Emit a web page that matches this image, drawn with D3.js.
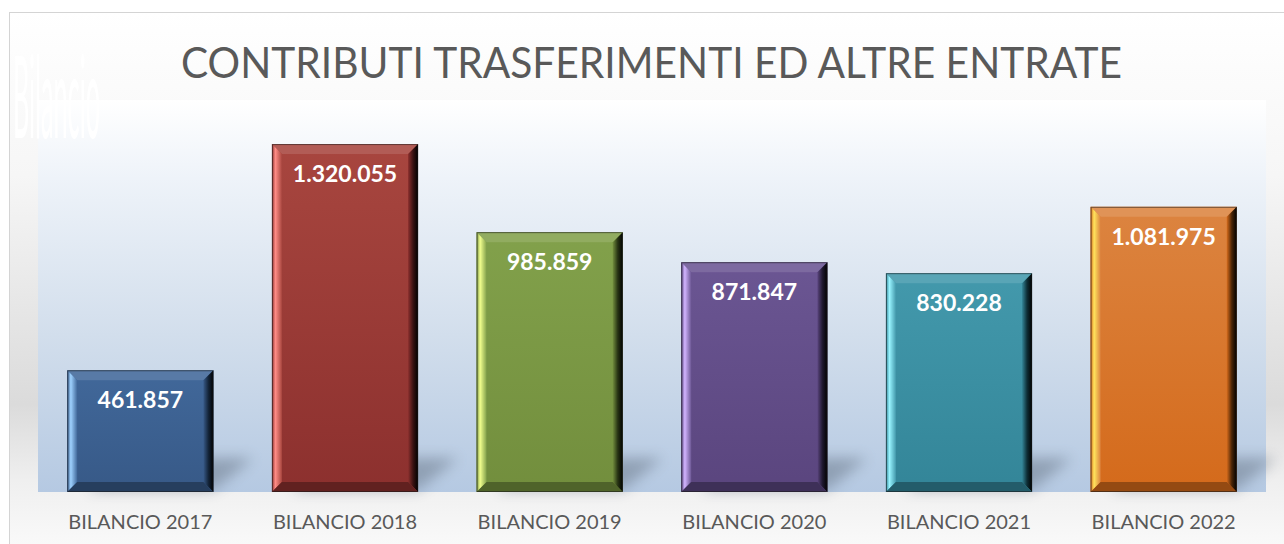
<!DOCTYPE html>
<html>
<head>
<meta charset="utf-8">
<script src="https://cdn.jsdelivr.net/npm/d3@7"></script>
<style>
  html, body { margin: 0; padding: 0; background: #fff; }
  svg { display: block; }
</style>
</head>
<body>
<div id="chart"></div>
<script>
// data
const categories = ["BILANCIO 2017", "BILANCIO 2018", "BILANCIO 2019", "BILANCIO 2020", "BILANCIO 2021", "BILANCIO 2022"];
const values = [461857, 1320055, 985859, 871847, 830228, 1081975];
const title = "CONTRIBUTI TRASFERIMENTI ED ALTRE ENTRATE";
const axisTitle = "Bilancio";
const yMax = 1400000;

// colour per bar: face top, face bottom, left highlight, right shade
const palette = [
  { top: "#41689a", bot: "#375987", hi: "#9fd2ff", lo: "#14253a" },
  { top: "#a8463f", bot: "#8c302e", hi: "#ff8c86", lo: "#3a1212" },
  { top: "#82a14b", bot: "#728e3d", hi: "#f2ff8e", lo: "#283414" },
  { top: "#6b5693", bot: "#5a457e", hi: "#d2b4ff", lo: "#201930" },
  { top: "#4399ac", bot: "#338598", hi: "#98f4ff", lo: "#0e2e36" },
  { top: "#dc8440", bot: "#d46a1b", hi: "#ffe45c", lo: "#4a2507" }
];

const W = 1284, H = 544;
const plot = { left: 38, right: 1266, top: 100, bottom: 492 };
const fmt = d3.formatLocale({ decimal: ",", thousands: ".", grouping: [3], currency: ["", ""] }).format(",");

const svg = d3.select("#chart").append("svg")
  .attr("width", W).attr("height", H);

const defs = svg.append("defs");

// chart background
const bg = defs.append("linearGradient").attr("id", "bgGrad")
  .attr("x1", 0).attr("y1", 0).attr("x2", 0).attr("y2", 1);
[[0, "#ffffff"], [0.3, "#f6f6f6"], [0.72, "#dbdbdb"], [0.86, "#efefef"], [1, "#fbfbfb"]]
  .forEach(s => bg.append("stop").attr("offset", s[0]).attr("stop-color", s[1]));

const pg = defs.append("linearGradient").attr("id", "plotGrad")
  .attr("x1", 0).attr("y1", 0).attr("x2", 0).attr("y2", 1);
[[0, "#ffffff"], [0.2, "#eef3f9"], [0.6, "#d2deec"], [1, "#b5c9e2"]]
  .forEach(s => pg.append("stop").attr("offset", s[0]).attr("stop-color", s[1]));

defs.append("filter").attr("id", "blur")
  .attr("x", "-50%").attr("y", "-50%").attr("width", "200%").attr("height", "200%")
  .append("feGaussianBlur").attr("stdDeviation", 7);

palette.forEach((c, i) => {
  const f = defs.append("linearGradient").attr("id", "face" + i)
    .attr("x1", 0).attr("y1", 0).attr("x2", 0).attr("y2", 1);
  f.append("stop").attr("offset", 0).attr("stop-color", c.top);
  f.append("stop").attr("offset", 1).attr("stop-color", c.bot);
  const l = defs.append("linearGradient").attr("id", "left" + i)
    .attr("x1", 0).attr("y1", 0).attr("x2", 1).attr("y2", 0);
  l.append("stop").attr("offset", 0).attr("stop-color", c.bot);
  l.append("stop").attr("offset", 0.35).attr("stop-color", c.hi);
  l.append("stop").attr("offset", 1).attr("stop-color", c.top);
  const r = defs.append("linearGradient").attr("id", "right" + i)
    .attr("x1", 0).attr("y1", 0).attr("x2", 1).attr("y2", 0);
  r.append("stop").attr("offset", 0).attr("stop-color", c.bot);
  r.append("stop").attr("offset", 0.5).attr("stop-color", c.lo);
  r.append("stop").attr("offset", 1).attr("stop-color", "#000");
});

svg.append("rect").attr("x", 9.5).attr("y", 12.5)
  .attr("width", W).attr("height", H)
  .attr("fill", "url(#bgGrad)").attr("stroke", "#d4d4d4");

svg.append("rect")
  .attr("x", plot.left).attr("y", plot.top)
  .attr("width", plot.right - plot.left).attr("height", plot.bottom - plot.top)
  .attr("fill", "url(#plotGrad)");

// watermark-ish axis title
svg.append("text")
  .attr("transform", "translate(13,138) scale(0.7,3.2)")
  .attr("font-family", "Lato").attr("font-size", 36)
  .attr("fill", "#ffffff")
  .text(axisTitle);

svg.append("text")
  .attr("x", 651.5).attr("y", 78)
  .attr("text-anchor", "middle")
  .attr("font-family", "Lato").attr("font-size", 43)
  .attr("textLength", 941).attr("lengthAdjust", "spacingAndGlyphs")
  .attr("fill", "#595959")
  .text(title);

const x = d3.scaleBand().domain(categories)
  .range([plot.left, plot.right]).paddingInner(0.286).paddingOuter(0.143);
const y = d3.scaleLinear().domain([0, yMax]).range([plot.bottom, 123]);

const data = categories.map((c, i) => ({ cat: c, value: values[i], i }));

// floor shadows
svg.append("g").selectAll("polygon").data(data).join("polygon")
  .attr("points", d => {
    const x0 = x(d.cat), x1 = x0 + x.bandwidth(), yb = plot.bottom - 2;
    return [[x0 + 20, yb], [x1, yb], [x1 + 40, yb - 32], [x0 + 60, yb - 32]].join(" ");
  })
  .attr("fill", "#5d6a7a").attr("opacity", 0.45)
  .attr("filter", "url(#blur)");

const b = 10;
const bars = svg.append("g").selectAll("g").data(data).join("g");

bars.each(function (d) {
  const g = d3.select(this);
  const x0 = x(d.cat), x1 = x0 + x.bandwidth();
  const y0 = y(d.value), y1 = y(0);
  const c = palette[d.i];
  g.append("rect").attr("x", x0).attr("y", y0).attr("width", x1 - x0).attr("height", y1 - y0)
    .attr("fill", "url(#face" + d.i + ")");
  g.append("polygon")
    .attr("points", [[x0, y0], [x1, y0], [x1 - b, y0 + b], [x0 + b, y0 + b]].join(" "))
    .attr("fill", c.top).attr("opacity", 1);
  g.append("polygon")
    .attr("points", [[x0, y0], [x1, y0], [x1 - b, y0 + b], [x0 + b, y0 + b]].join(" "))
    .attr("fill", "#ffffff").attr("opacity", 0.12);
  g.append("polygon")
    .attr("points", [[x0, y0], [x0 + b, y0 + b], [x0 + b, y1 - b], [x0, y1]].join(" "))
    .attr("fill", "url(#left" + d.i + ")");
  g.append("polygon")
    .attr("points", [[x1, y0], [x1, y1], [x1 - b, y1 - b], [x1 - b, y0 + b]].join(" "))
    .attr("fill", "url(#right" + d.i + ")");
  g.append("polygon")
    .attr("points", [[x0, y1], [x1, y1], [x1 - b, y1 - b], [x0 + b, y1 - b]].join(" "))
    .attr("fill", c.bot);
  g.append("polygon")
    .attr("points", [[x0, y1], [x1, y1], [x1 - b, y1 - b], [x0 + b, y1 - b]].join(" "))
    .attr("fill", "#000").attr("opacity", 0.3);
  g.append("rect").attr("x", x0 + 0.5).attr("y", y0 + 0.5)
    .attr("width", x1 - x0 - 1).attr("height", y1 - y0 - 1)
    .attr("fill", "none").attr("stroke", "#1a1a1a").attr("stroke-opacity", 0.55);
  g.append("text")
    .attr("x", (x0 + x1) / 2).attr("y", y0 + 38)
    .attr("text-anchor", "middle")
    .attr("font-family", "Lato").attr("font-weight", "bold").attr("font-size", 23)
    .attr("fill", "#ffffff")
    .text(fmt(d.value));
});

// category labels
svg.append("g").selectAll("text").data(data).join("text")
  .attr("x", d => x(d.cat) + x.bandwidth() / 2)
  .attr("y", 529)
  .attr("text-anchor", "middle")
  .attr("font-family", "Lato").attr("font-size", 20)
  .attr("fill", "#595959")
  .text(d => d.cat);
</script>
</body>
</html>
